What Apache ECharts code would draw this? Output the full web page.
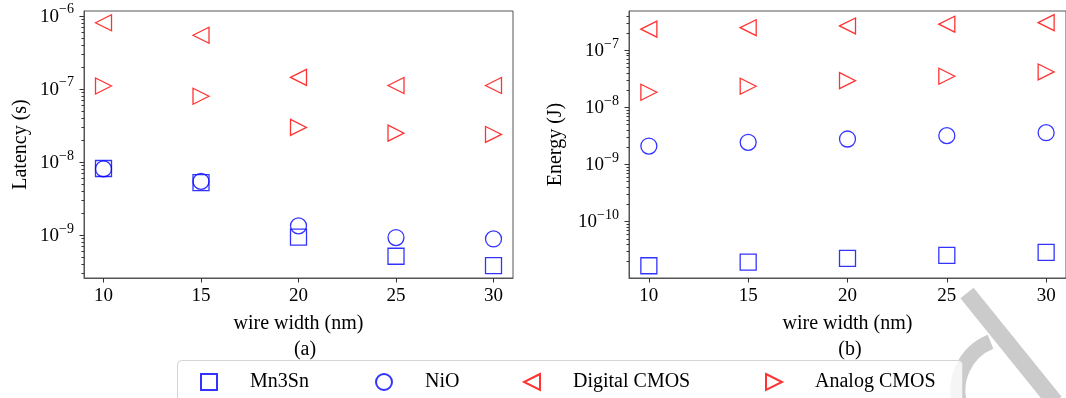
<!DOCTYPE html>
<html><head><meta charset="utf-8">
<script src="https://cdn.jsdelivr.net/npm/echarts@6/dist/echarts.min.js"></script>
<style>html,body{margin:0;padding:0;background:#fff}#c{width:1066px;height:398px}</style>
</head><body><div id="c"></div>
<script>
// ---- data ----
const wireWidth = [10, 15, 20, 25, 30];
const latMn3Sn   = [8.1e-9, 5.2e-9, 9.3e-10, 5.1e-10, 3.8e-10];
const latNiO     = [8.0e-9, 5.4e-9, 1.33e-9, 9.2e-10, 8.8e-10];
const latDigital = [8.0e-7, 5.4e-7, 1.43e-7, 1.11e-7, 1.11e-7];
const latAnalog  = [1.09e-7, 7.9e-8, 2.96e-8, 2.47e-8, 2.37e-8];
const enMn3Sn    = [1.67e-11, 1.94e-11, 2.25e-11, 2.54e-11, 2.86e-11];
const enNiO      = [2.08e-9, 2.42e-9, 2.76e-9, 3.16e-9, 3.56e-9];
const enDigital  = [2.31e-7, 2.45e-7, 2.63e-7, 2.82e-7, 3.0e-7];
const enAnalog   = [1.82e-8, 2.31e-8, 2.9e-8, 3.46e-8, 4.12e-8];
const xTicks = [10, 15, 20, 25, 30];
const latMajor = [1e-9, 1e-8, 1e-7, 1e-6];
const enMajor  = [1e-10, 1e-9, 1e-8, 1e-7];
const seriesNames = ['Mn3Sn', 'NiO', 'Digital CMOS', 'Analog CMOS'];

const F = '"Liberation Serif", "Times New Roman", serif';
const latRange = [2.57e-10, 1.16e-6];
const enRange  = [1.02e-11, 4.8e-7];

function minorTicks(major, range) {
  const out = [];
  const decades = [major[0] / 10].concat(major);
  decades.forEach(d => { for (let m = 2; m <= 9; m++) { const v = m * d; if (v >= range[0] && v <= range[1]) out.push(v); } });
  return out;
}
function expLabel(v) {
  const e = Math.log10(v), r = Math.round(e);
  if (Math.abs(e - r) > 1e-6) return '';
  return '{b|10}{s|' + (r < 0 ? '\u2212' : '') + Math.abs(r) + '}';
}
function sc(name, gi, ys, symbol, rot, color) {
  return {
    type: 'scatter', name, xAxisIndex: gi, yAxisIndex: gi,
    data: wireWidth.map((x, i) => [x, ys[i]]),
    symbol, symbolRotate: rot, symbolSize: 16,
    itemStyle: { color: 'rgba(0,0,0,0)', borderColor: color, borderWidth: 1.3 },
    emphasis: { disabled: true }, z: 3
  };
}
const axisLineStyle = { color: '#555', width: 1 };
function xAx(gi) {
  return {
    type: 'value', gridIndex: gi, min: 9, max: 31,
    axisLine: { show: true, lineStyle: axisLineStyle },
    axisTick: { show: true, customValues: xTicks, length: 4.5, lineStyle: { color: '#333' } },
    axisLabel: { customValues: xTicks, fontFamily: F, fontSize: 19, color: '#000', margin: 9 },
    splitLine: { show: false },
    name: 'wire width (nm)', nameLocation: 'middle', nameGap: 36, nameMoveOverlap: false,
    nameTextStyle: { fontFamily: F, fontSize: 20, color: '#000' }
  };
}
function yAx(gi, range, name, gap) {
  return {
    type: 'log', logBase: 10, gridIndex: gi, min: range[0], max: range[1],
    axisLine: { show: true, lineStyle: axisLineStyle },
    axisTick: { show: false }, minorTick: { show: false }, splitLine: { show: false },
    axisLabel: {
      formatter: expLabel, margin: 10, showMinLabel: false, showMaxLabel: false,
      rich: {
        b: { fontFamily: F, fontSize: 19, color: '#000', lineHeight: 26, padding: [2, 0, 0, 0] },
        s: { fontFamily: F, fontSize: 14, color: '#000', lineHeight: 11, verticalAlign: 'top' }
      }
    },
    name, nameLocation: 'middle', nameGap: gap, nameMoveOverlap: false,
    nameTextStyle: { fontFamily: F, fontSize: 20, color: '#000' }
  };
}
const legendPos = [200, 375, 523, 765];
const legendIcons = [null, null, 'path://M10,0 L0,5 L10,10 Z', 'path://M0,0 L10,5 L0,10 Z'];
const baseGraphic = [
  { type: 'rect', z: 1, shape: { x: 177.5, y: 360.5, width: 785, height: 60, r: 4 },
    style: { fill: 'rgba(255,255,255,0.8)', stroke: '#d4d4d4', lineWidth: 1 } },
  { type: 'text', z: 2, x: 305, y: 350,
    style: { text: '(a)', font: '20px ' + F, fill: '#000', align: 'center', verticalAlign: 'middle' } },
  { type: 'text', z: 2, x: 850, y: 350,
    style: { text: '(b)', font: '20px ' + F, fill: '#000', align: 'center', verticalAlign: 'middle' } },
  { type: 'line', z: 0, shape: { x1: 967, y1: 293, x2: 1055, y2: 402 },
    style: { stroke: '#cbcbcb', lineWidth: 17, lineCap: 'butt' } },
  { type: 'arc', z: 0, shape: { cx: 1010, cy: 390, r: 52, startAngle: 160 * Math.PI / 180, endAngle: 248 * Math.PI / 180, clockwise: true },
    style: { stroke: '#cbcbcb', lineWidth: 15, fill: null } }
];
const option = {
  animation: false,
  backgroundColor: '#fff',
  grid: [
    { left: 84, top: 11, width: 429, height: 267, show: true, borderColor: '#555', borderWidth: 1, backgroundColor: 'transparent' },
    { left: 629, top: 11, width: 441, height: 267, show: true, borderColor: '#555', borderWidth: 1, backgroundColor: 'transparent' }
  ],
  xAxis: [xAx(0), xAx(1)],
  yAxis: [yAx(0, latRange, 'Latency (s)', 53), yAx(1, enRange, 'Energy (J)', 63)],
  legend: seriesNames.map((n, i) => ({
    data: [legendIcons[i] ? { name: n, icon: legendIcons[i] } : { name: n }],
    left: legendPos[i], top: 372, padding: 0, itemWidth: 16, itemHeight: 16, itemGap: 0,
    selectedMode: false, symbolRotate: 0,
    textStyle: { fontFamily: F, fontSize: 20, color: '#000', padding: [0, 0, 0, 28] }
  })),
  series: [
    sc('Mn3Sn', 0, latMn3Sn, 'rect', 0, '#0000ff'),
    sc('NiO', 0, latNiO, 'circle', 0, '#0000ff'),
    sc('Digital CMOS', 0, latDigital, 'triangle', 90, '#ff0000'),
    sc('Analog CMOS', 0, latAnalog, 'triangle', -90, '#ff0000'),
    sc('Mn3Sn', 1, enMn3Sn, 'rect', 0, '#0000ff'),
    sc('NiO', 1, enNiO, 'circle', 0, '#0000ff'),
    sc('Digital CMOS', 1, enDigital, 'triangle', 90, '#ff0000'),
    sc('Analog CMOS', 1, enAnalog, 'triangle', -90, '#ff0000')
  ],
  graphic: baseGraphic
};
const chart = echarts.init(document.getElementById('c'), null, { renderer: 'canvas' });
chart.setOption(option);

// y-axis major/minor tick marks placed through the log axis scale
function tickLines(gi, values, len) {
  return values.map(v => {
    const p = chart.convertToPixel({ gridIndex: gi }, [9, v]);
    const x = Math.round(p[0]), y = Math.round(p[1]) + 0.5;
    return { type: 'line', z: 5, silent: true, shape: { x1: x - len, y1: y, x2: x, y2: y },
      style: { stroke: '#333', lineWidth: 1 } };
  });
}
chart.setOption({
  graphic: baseGraphic
    .concat(tickLines(0, latMajor, 4.5)).concat(tickLines(0, minorTicks(latMajor, latRange), 2.5))
    .concat(tickLines(1, enMajor, 4.5)).concat(tickLines(1, minorTicks(enMajor, enRange), 2.5))
});
</script></body></html>
